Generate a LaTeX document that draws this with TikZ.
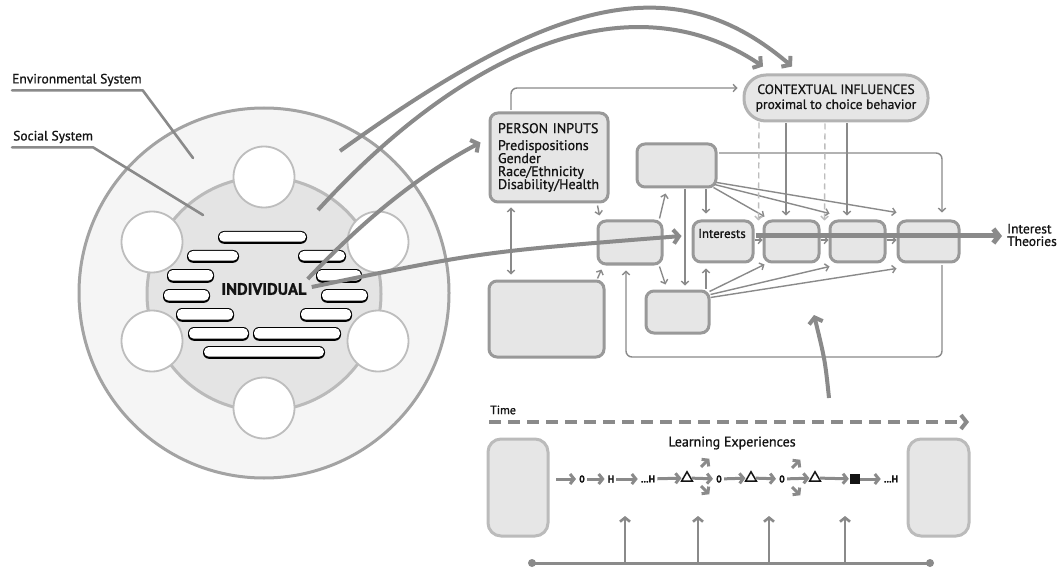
\documentclass[tikz,border=0pt]{standalone}
\usepackage{fontspec}
\setmainfont{PT Sans}[FakeBold=0.9]
\usetikzlibrary{arrows.meta,shapes.geometric}

\definecolor{ln}{HTML}{8A8A8A}
\definecolor{boxline}{HTML}{999999}
\definecolor{boxfill}{HTML}{E6E6E6}
\definecolor{ctxline}{HTML}{B3B3B3}
\definecolor{softline}{HTML}{BBBBBB}
\definecolor{dashc}{HTML}{BDBDBD}
\definecolor{ringout}{HTML}{F5F5F5}
\definecolor{ringoutline}{HTML}{A3A3A3}
\definecolor{ringin}{HTML}{E4E4E4}
\definecolor{ringinline}{HTML}{BABABA}
\definecolor{holeline}{HTML}{BDBDBD}
\definecolor{ink}{HTML}{141414}

\tikzset{
  lead/.style={draw=ln, line width=2.6pt, line cap=round, line join=round},
  conn/.style={draw=ln, line width=1.4pt, -{Straight Barb[length=3.5pt,width=7.5pt]}},
  dconn/.style={draw=ln, line width=1.4pt, {Straight Barb[length=3.5pt,width=7.5pt]}-{Straight Barb[length=3.5pt,width=7.5pt]}},
  dashconn/.style={draw=dashc, line width=1.4pt, dash pattern=on 6pt off 4pt, -{Straight Barb[length=3.5pt,width=7.5pt]}},
  big/.style={draw=ln, line width=4pt, -{Straight Barb[length=5.5pt,width=14pt]}},
  midarr/.style={draw=ln, line width=2.6pt, -{Straight Barb[length=4pt,width=10pt]}},
  seqarr/.style={draw=ln, line width=3pt, -{Straight Barb[length=4pt,width=10pt]}, shorten >=1pt},
  box/.style={draw=boxline, fill=boxfill, line width=3pt, rounded corners=8pt, inner sep=0pt},
  lbox/.style={box, draw=softline, rounded corners=13pt},
  hole/.style={circle, draw=holeline, fill=white, line width=1.8pt, minimum size=61pt, inner sep=0pt},
  txt/.style={text=ink, inner sep=0pt},
  lab/.style={txt, font=\fontsize{13.5}{15}\selectfont},
  tok/.style={text=ink, inner sep=2pt, font=\fontsize{10}{11}\selectfont\bfseries},
  tri/.style={regular polygon, regular polygon sides=3, draw=ink, line width=1.5pt, minimum size=12.5pt, inner sep=0pt},
  dot/.style={circle, fill=ln, minimum size=8pt, inner sep=0pt},
}

\begin{document}
\begin{tikzpicture}[x=1pt,y=-1pt]
\useasboundingbox (0,0) rectangle (1062,569);
\fill[white] (0,0) rectangle (1062,569);

% ---------- nested systems ----------
\filldraw[fill=ringout, draw=ringoutline, line width=3pt] (264,293) circle (185);
\filldraw[fill=ringin, draw=ringinline, line width=3pt] (264,294) circle (117);
\foreach \cx/\cy [count=\i] in {264/177, 152/242, 378/242, 152/341, 378/341, 264/408}
  \node[hole] (h\i) at (\cx,\cy) {};

% attribute bars around the individual
\foreach \a/\b/\c/\d in {218/231/307/243, 187/250/239/262, 298/250/346/262,
    167/269/214/282, 316/269/362/282, 163/289/210/302, 321/289/368/302,
    176/308/234/321, 300/308/352/321, 188/327/249/340, 253/327/341/340,
    203/346/325/358}{
  \fill[black, rounded corners=6pt] (\a,\b) rectangle (\c,\d+0.8);
  \fill[white, rounded corners=4.8pt] (\a+1,\b+1) rectangle (\c-1,\d-1.3);
}
\node[txt, font=\fontsize{16.5}{18}\selectfont\bfseries] (ind) at (264,289) {INDIVIDUAL};

% system labels with leader lines
\node[lab, anchor=west] (env) at (12,80) {Environmental System};
\node[lab, anchor=west] (soc) at (13,137) {Social System};
\coordinate (envp) at (193,158);
\coordinate (socp) at (203,215);
\draw[lead] ([shift={(0,4)}]env.south west) -- ([shift={(1,4)}]env.south east) -- (envp);
\draw[lead] ([shift={(-1,4)}]soc.south west) -- ([shift={(0,4)}]soc.south east) -- (socp);

% ---------- model boxes ----------
\node[box, minimum width=118pt, minimum height=89pt, text width=102pt, align=left,
      text=ink, font=\fontsize{14}{13}\selectfont] (pin) at (549,157.5)
  {PERSON INPUTS\\[4pt]Predispositions\\Gender\\Race/Ethnicity\\Disability/Health};
\node[box, minimum width=115pt, minimum height=76pt] (b8) at (546.5,319) {};
\node[box, draw=ctxline, rounded corners=22pt, minimum width=184pt, minimum height=46pt,
      align=center, text=ink, font=\fontsize{13.5}{15}\selectfont] (ctx) at (836,98)
  {CONTEXTUAL INFLUENCES\\proximal to choice behavior};
\node[box, minimum width=79pt, minimum height=43pt] (b1) at (676.5,165.5) {};
\node[box, minimum width=64pt, minimum height=43pt] (b2) at (630,242.5) {};
\node[box, minimum width=60pt, minimum height=41pt] (b3) at (723,241.5) {};
\node[txt, font=\fontsize{12.8}{13}\selectfont] (b3lab) at ([shift={(-1,-8)}]b3.center) {Interests};
\node[box, minimum width=55pt, minimum height=41pt] (b4) at (791.5,241.5) {};
\node[box, minimum width=55pt, minimum height=41pt] (b5) at (857.5,241.5) {};
\node[box, minimum width=61pt, minimum height=41pt] (b6) at (928.5,241.5) {};
\node[box, minimum width=63pt, minimum height=42pt] (b7) at (677.5,312) {};
\node[txt, align=left, anchor=west, font=\fontsize{13.5}{12.5}\selectfont] (theo) at (1007,235) {Interest\\Theories};

% person inputs links
\draw[conn, rounded corners=6pt] ([shift={(-38,-1.5)}]pin.north) |- ([shift={(-5,-10)}]ctx.west);
\draw[dconn] ([shift={(-38,4)}]pin.south) -- ([shift={(-35.5,-5)}]b8.north);
\draw[conn] ([shift={(-12,2)}]pin.south east) -- ([shift={(3,-4)}]b2.north west);
\draw[conn] ([shift={(-8,-1)}]b8.north east) -- ([shift={(5,4)}]b2.south west);

% links among the core boxes
\draw[conn] ([shift={(-4,-1)}]b2.north east) -- ([shift={(30,5)}]b1.south west);
\draw[conn] ([shift={(-4,1)}]b2.south east) -- ([shift={(21,-5)}]b7.north west);
\draw[conn] ([shift={(8.5,1)}]b1.south) -- ([shift={(7.5,-4)}]b7.north);
\draw[conn] ([shift={(29.5,1)}]b1.south) -- ([shift={(-17,-6)}]b3.north);
\draw[conn] ([shift={(28.5,-1)}]b7.north) -- ([shift={(-17,5)}]b3.south);
\draw[conn] ([shift={(-4,-1)}]b1.south east) -- ([shift={(2,-3)}]b4.north west);
\draw[conn] ([shift={(-3,-4)}]b1.south east) -- ([shift={(1,-6)}]b5.north west);
\draw[conn] ([shift={(-1,-6)}]b1.south east) -- ([shift={(0,-7)}]b6.north west);
\draw[conn] ([shift={(-1,2)}]b7.north east) -- ([shift={(2,1)}]b4.south west);
\draw[conn] ([shift={(0,5)}]b7.north east) -- ([shift={(1,3)}]b5.south west);
\draw[conn] ([shift={(0,8)}]b7.north east) -- ([shift={(0,5)}]b6.south west);
\draw[conn, rounded corners=6pt] ([shift={(1.5,-12.5)}]b1.east) -| ([shift={(13.5,-7)}]b6.north);
\coordinate (fb) at (626,357);
\draw[conn, rounded corners=6pt] ([shift={(13.5,1.5)}]b6.south) |- (fb) -- ([shift={(-4,5)}]b2.south);

% contextual influences
\draw[conn] ([shift={(-50,1)}]ctx.south) -- ([shift={(-5.5,-4)}]b4.north);
\draw[conn] ([shift={(11,1)}]ctx.south) -- ([shift={(-10.5,-4)}]b5.north);
\draw[dashconn] ([shift={(-77,0)}]ctx.south) -- ([shift={(-4,1)}]b4.north west);
\draw[dashconn] ([shift={(-11,1)}]ctx.south) -- ([shift={(-4,1)}]b5.north west);

% sequence along the chain
\draw[conn] ([shift={(0,-1.5)}]b3.east) -- ([shift={(0,-1.5)}]b4.west);
\draw[conn] ([shift={(0,-1.5)}]b4.east) -- ([shift={(0,-1.5)}]b5.west);
\draw[conn] ([shift={(0,-1.5)}]b5.east) -- ([shift={(0,-1.5)}]b6.west);
\draw[big, line width=5pt] ([shift={(1,-5.5)}]b3.east) -- ([shift={(-5,1)}]theo.west);

% ---------- influence arrows from the systems ----------
\coordinate (envA) at (340,151);
\coordinate (socB) at (318,210);
\draw[big] (envA) .. controls (550,0) and (672,-36) .. ([shift={(-44,-7)}]ctx.north);
\draw[big] (socB) .. controls (468,46) and (633,-21) .. ([shift={(-73,-7)}]ctx.north);
\draw[big] ([shift={(1,-10)}]ind.east) .. controls (340,245) and (400,185) .. ([shift={(-8,-15)}]pin.west);
\draw[big] ([shift={(5,-2)}]ind.east) .. controls (480,252) .. ([shift={(-10,-5.5)}]b3.west);

% learning experiences feed upward
\coordinate (lfoot) at (829,398);
\coordinate (ltip) at (814,315);
\draw[big] (lfoot) .. controls (825,360) .. (ltip);

% ---------- time line ----------
\node[txt, anchor=west, font=\fontsize{12}{12}\selectfont] (time) at (490,410) {Time};
\coordinate (tstart) at (489,422);
\coordinate (tend) at (969,422);
\draw[big, dash pattern=on 12pt off 7pt] (tstart) -- (tend);

\node[lbox, minimum width=60pt, minimum height=97pt] (b9) at (518,487.5) {};
\node[lbox, minimum width=61pt, minimum height=97pt] (b10) at (938.5,487.5) {};
\node[txt, font=\fontsize{14}{14}\selectfont] (lexp) at (732,443) {Learning Experiences};

% chain of learning episodes
\node[tok] (o1) at (582,479) {0};
\node[tok] (hh1) at (611,479) {H};
\node[tok] (hh2) at (648,479) {...H};
\node[tri] (t1) at (687,478) {};
\node[tok] (o2) at (719,479) {0};
\node[tri] (t2) at (751,478) {};
\node[tok] (o3) at (782,479) {0};
\node[tri] (t3) at (815,478) {};
\node[fill=ink, minimum size=10pt, inner sep=0pt] (sq) at (855,479) {};
\node[tok] (hh3) at (891,479) {...H};
\coordinate (s0) at (556,479);
\draw[seqarr] (s0) -- (o1);
\draw[seqarr] (o1) -- (hh1);
\draw[seqarr] (hh1) -- (hh2);
\draw[seqarr] (hh2) -- (t1);
\draw[seqarr] (t1) -- (o2);
\draw[seqarr] (o2) -- (t2);
\draw[seqarr] (t2) -- (o3);
\draw[seqarr] (o3) -- (t3);
\draw[seqarr] (t3) -- (sq);
\draw[seqarr] (sq) -- (hh3);
\draw[seqarr] ([shift={(14,-11)}]t1.center) -- ++(9,-9);
\draw[seqarr] ([shift={(14,8)}]t1.center) -- ++(9,9);
\draw[seqarr] ([shift={(10,-11)}]o3.center) -- ++(9,-9);
\draw[seqarr] ([shift={(10,8)}]o3.center) -- ++(9,9);

% support line with inputs
\node[dot] (d1) at (532,563) {};
\node[dot] (d2) at (930,563) {};
\draw[draw=ln, line width=3pt] (d1.center) -- (d2.center);
\foreach \x [count=\i] in {625,698,769,845}{
  \coordinate (u\i) at (\x,563);
  \coordinate (v\i) at (\x,516);
  \draw[midarr] (u\i) -- (v\i);
}
\end{tikzpicture}
\end{document}
